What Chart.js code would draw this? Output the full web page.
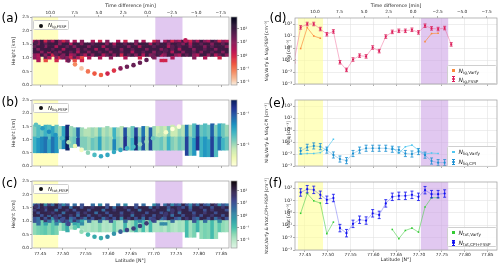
<!DOCTYPE html>
<html>
<head>
<meta charset="utf-8">
<script src="https://cdn.jsdelivr.net/npm/chart.js@4.4.1/dist/chart.umd.min.js"></script>
<style>
html,body{margin:0;padding:0;background:#fff;}
body{width:500px;height:267px;overflow:hidden;font-family:'DejaVu Sans',sans-serif;}
canvas{position:absolute;}
.pl{position:absolute;font-size:12px;line-height:12px;color:#000;}
.leg{position:absolute;border:0.6px solid #cfcfcf;border-radius:1.5px;background:rgba(255,255,255,0.85);color:#222;box-sizing:border-box;}
.leg .row{position:absolute;white-space:nowrap;}
.leg sub{font-size:70%;vertical-align:-0.3em;line-height:0;}
.mk{position:absolute;width:0;height:0;}
</style>
</head>
<body>
<script>
// ================= DATA =================
const latRangeLeft  = [77.4317, 77.8667];
const latRangeRight = [77.4281, 77.8710];
const latTicks   = [77.45, 77.50, 77.55, 77.60, 77.65, 77.70, 77.75, 77.80, 77.85];
const timeTicks  = [10, 7.5, 5, 2.5, 0, -2.5, -5, -7.5];
const timeZeroLat = 77.687;      // latitude where time difference = 0
const degPerMin   = 0.0215;      // latitude change per minute
const heightTicks = [0, 0.5, 1, 1.5, 2, 2.5];
const decadeTicks = [1e-3, 1e-2, 1e-1, 1, 10, 100];
const yellowBand = [77.4345, 77.4895];
const purpleBand = [77.704, 77.764];

// colour scale limits (log10)
const iceRange = [-2.2, 2.9];
const liqRange = [-2.7, -0.55];
const totRange = [-2.65, 2.8];
const iceCbTicks = [1e-2, 1e-1, 1, 10, 100];
const liqCbTicks = [1e-2, 1e-1];
const totCbTicks = [1e-2, 1e-1, 1, 10, 100];

// flight (in-situ) samples
const pointLat = [77.4405, 77.4549, 77.4692, 77.4836, 77.4979, 77.5123, 77.5266, 77.5410, 77.5553, 77.5697, 77.5840, 77.5984,
                  77.6127, 77.6271, 77.6414, 77.6558, 77.6701, 77.6845, 77.6988, 77.7132, 77.7275, 77.7419, 77.7562, 77.7706];
const pointHeight = [1.56, 1.43, 1.30, 1.17, 1.05, 0.90, 0.76, 0.61, 0.50, 0.42, 0.37, 0.42,
                     0.53, 0.61, 0.67, 0.73, 0.82, 0.92, 1.05, 1.17, 1.28, 1.40, 1.49, 1.64];
const nIceFSSP  = [52, 100, 100, 38, 14, 24, 0.065, 0.015, 0.11, 0.23, 0.2, 1.1, 0.55, 9, 22, 27, 27, 33, 20, 72, 43, 38, 46, 2.0];
const iceEdgeLat = 77.4262, iceEdgeValue = 0.08;
const nIceVarfy = [0.9, 50, 10, 6.5, null, null, null, null, null, null, null, null, null, null, null, null, null, null, null, 3.4, 16, 17, null, null];
const nLiqCPI   = [0.018, 0.036, 0.047, 0.041, 0.021, 0.0083, 0.0038, 0.0028, 0.011, 0.021, 0.03, 0.03, 0.03, 0.03, 0.025, 0.022, 0.011, 0.01, 0.016, 0.008, 0.0026, 0.0019, 0.0019, null];
const nLiqVarfy = [0.010, 0.011, 0.011, 0.013, 0.03, 0.17, null, null, null, null, null, null, null, null, 0.034, 0.012, 0.04, 0.055, 0.021, 0.010, 0.012, 0.011, null, null];
const nTotCPIFSSP = [45, 83, 73, 29, 11.5, 16, 0.059, 0.023, 0.13, 0.28, 0.24, 0.93, 0.69, 5.9, 20, 24, 24, 29, 20, 69, 33, 33, 37, null];
const nTotVarfy   = [0.93, 37, 9.5, 6.3, 0.021, 0.18, null, null, null, null, null, null, null, null, 0.046, 0.0083, 0.038, 0.059, 0.028, 3.0, 17, 17, null, null];
const errIceFSSP = 1.4, errLiqCPI = 1.8, errTot = 2.0;   // multiplicative error factors

// retrieved curtain (Varfy): column centres
const colLat = [77.438,77.446,77.454,77.462,77.470,77.478,77.486,77.494,77.502,77.510,77.518,77.526,77.534,77.542,77.550,77.558,77.566,77.574,
                77.582,77.590,77.598,77.606,77.614,77.622,77.630,77.638,77.646,77.654,77.662,77.670,77.678,77.686,77.694,77.702,77.710,77.718,
                77.726,77.734,77.742,77.750,77.758,77.766,77.774,77.782,77.790,77.798,77.806,77.814,77.822,77.830,77.838,77.846,77.854,77.862];
const iceRowBottom = [0.85, 0.95, 1.05, 1.15, 1.25, 1.35, 1.45, 1.55];
const iceRowDepth = 0.1;
// log10 N_ig per row (bottom to top)
const ice085 = [null,0.5,null,-0.5,null,null, 0,null,null,0.5,null,-0.5, null,0,null,null,null,null, null,null,null,null,null,null, null,null,null,null,null,null, null,null,null,null,null,0, 0,null,null,null,null,null, null,null,null,null,null,null, null,null,null,null,null,null];
const ice095 = [1,0.5,null,1.5,0.5,null, 1,0,1.5,1,0,1.5, 0.5,-0.5,null,0.5,null,null, 0.5,null,null,1,null,null, null,0.5,null,null,null,0, null,null,null,1,null,null, null,null,0.5,null,null,null, null,null,1,null,null,0.5, null,null,null,0,null,null];
const ice105 = [1,0.5,2,1,2,0, 1.5,2,1,2,0.5,1, 2,1.5,0.5,2,1,2, 2,0.5,1.5,2,1,2, 0,2,1.5,2,1,2, 0.5,2,1,1.5,2,0.5, 1,2,2,1,0.5,2, 1.5,2,1,0.5,2,2, 1,2,0.5,1.5,2,1];
const ice115 = [2,2,1,2,0.5,2, 2,1,2,2,1.5,2, 0.5,2,2,1,2,2, 1.5,2,2,1,2,2, 1.5,2,2,0.5,2,2, 1.5,2,2,1,2,2, 1.5,2,0.5,2,2,1, 2,2,1.5,2,1,2, 2,1.5,2,2,1,2];
const ice125 = [2,1,2,2,2,1.5, 2,2,0.5,2,2,2, 1,2,1.5,2,2,0.5, 2,2,1,2,2,2, 1,2,2,1.5,2,2, 2,1,2,2,2,1, 2,2,1.5,2,0.5,2, 2,2,1,2,2,1.5, 2,2,1,2,2,2];
const ice135 = [1.5,2,2,1,2,2, 0.5,2,2,1.5,2,1, 2,2,2,1,2,2, 2,0.5,2,2,1.5,2, 2,2,1,2,2,0.5, 2,2,2,1.5,2,2, 2,0.5,2,2,1.5,2, 2,1,2,2,2,1, 2,1.5,2,2,2,1];
const ice145 = [2,1,2,1.5,2,2, 2,1,2,2,0.5,2, 2,1,2,2,1.5,2, 2,2,1,2,0.5,2, 2,1.5,2,2,1,2, 2,2,0.5,2,1.5,2, 2,1,2,2,2,1, 2,0.5,2,2,1.5,2, 2,1,2,2,1.5,2];
const ice155 = [0.5,1,2,0,1.5,0.5, 2,1,0,1,null,0.5, null,1,null,null,0.5,null, 0,null,1,null,null,0.5, null,0,null,null,1,null, 0.5,null,null,0,1,null, 0.5,1.5,0,1,0.5,2, 1,0,1.5,0.5,2,1, 0.5,2,1.5,0,1,0.5];
// liquid columns: bottom, split, top (km) and log10 N_liq below / above the split
const liqBottom = [0.5,0.5,0.5,0.5,0.5,0.5, 0.5,0.65,0.65,0.6,0.7,0.7, 0.75,0.7,0.6,0.6,0.6,0.6, 0.6,0.6,0.6,0.6,0.6,0.6, 0.6,0.6,0.6,0.6,0.6,0.6, 0.6,0.6,0.6,0.6,0.6,0.6, 0.6,0.6,0.6,0.6,0.6,0.6, 0.4,0.4,0.4,0.6,0.35,0.35, 0.35,0.35,0.35,0.6,0.6,0.6];
const liqSplit  = [1.1,1.05,1.1,1.1,1.0,1.1, 1.1,1.1,1.0,1.1,1.1,1.1, 1.05,1.1,1.1,1.1,1.05,1.1, 1.1,1.1,1.1,1.1,1.0,1.1, 1.1,1.1,1.1,1.05,1.1,1.1, 1.1,1.1,1.1,1.1,1.1,1.1, 1.1,1.1,1.1,1.1,1.1,1.1, 1.1,1.1,1.05,1.1,1.1,1.1, 1.0,1.1,1.1,1.1,1.05,1.1];
const liqTop    = [1.55,1.55,1.5,1.55,1.55,1.5, 1.55,1.5,1.5,1.55,1.5,1.45, 1.45,1.45,1.4,1.45,1.45,1.45, 1.45,1.45,1.5,1.45,1.45,1.45, 1.5,1.45,1.45,1.5,1.45,1.45, 1.5,1.5,1.45,1.5,1.5,1.5, 1.5,1.5,1.55,1.5,1.5,1.55, 1.55,1.55,1.6,1.55,1.55,1.6, 1.55,1.6,1.55,1.6,1.6,1.55];
const liqLow  = [-1.6,-1.4,-1.3,-1.2,-1.5,-1.2, -1.4,-1.9,-1.3,-0.6,-1.9,-1.8, -0.9,-1.9,-1.9,-2.0,-1.8,-1.9, -1.5,-2.0,-1.9,-2.0,-1.3,-1.9, -2.0,-0.8,-1.9,-1.6,-0.7,-1.8, -1.0,-2.0,-0.9,-1.9,-1.9,-1.8, -2.0,-1.6,-1.9,-2.0,-1.8,-1.9, -0.9,-1.8,-1.4,-0.8,-1.6,-1.4, -1.5,-0.9,-1.7,-1.2,-1.6,-1.8];
const liqHigh = [-1.9,-1.7,-1.8,-1.6,-1.7,-1.5, -1.8,-2.0,-1.5,-0.7,-2.0,-1.9, -1.1,-2.0,-2.1,-2.1,-2.0,-2.1, -1.8,-2.1,-2.0,-2.1,-1.6,-2.0, -2.1,-1.0,-2.0,-1.8,-0.9,-2.0, -1.2,-2.1,-1.1,-2.0,-2.2,-2.1, -2.2,-1.9,-2.2,-2.2,-2.0,-2.1, -1.2,-2.0,-1.7,-1.0,-1.8,-1.7, -1.8,-1.1,-1.9,-1.5,-1.8,-2.0];

// ================= STYLE / HELPERS =================
const FONT = "'DejaVu Sans', sans-serif";
Chart.defaults.font.family = FONT;
Chart.defaults.color = '#222';

const ROCKET = ['#03051A','#221331','#451C47','#6A1F56','#921C5B','#B91657','#DA2B48','#EF5A41','#F58860','#F6B48E','#FAEBDD'];
const MAKO   = ['#0B0405','#2A1B38','#3C2F60','#40498E','#37679F','#3487A6','#35A5AB','#49C1AD','#8AD9B4','#BDE9CB','#DEF5E5'];
const YLGNBU = ['#FFFFD9','#EDF8B1','#C7E9B4','#7FCDBB','#41B6C4','#1D91C0','#225EA8','#253494','#081D58'];
function makeMap(stops){
  const rgb = stops.map(h=>[parseInt(h.slice(1,3),16),parseInt(h.slice(3,5),16),parseInt(h.slice(5,7),16)]);
  return f => { f = Math.min(1, Math.max(0, f)); const p = f*(rgb.length-1); const i = Math.min(rgb.length-2, Math.floor(p)); const t = p-i;
    const c = rgb[i].map((v,k)=>Math.round(v+(rgb[i+1][k]-v)*t)); return 'rgb('+c[0]+','+c[1]+','+c[2]+')'; };
}
const rocket = makeMap(ROCKET), mako = makeMap(MAKO), ylgnbu = makeMap(YLGNBU);
const iceMap = f => rocket(1-f), totMap = f => mako(1-f), liqMap = f => ylgnbu(f);
const logColor = (map, range, lv) => map((lv-range[0])/(range[1]-range[0]));

const SUP = {'-':'\u207B','0':'\u2070','1':'\u00B9','2':'\u00B2','3':'\u00B3'};
const pow10Label = e => '10' + String(e).split('').map(c=>SUP[c]).join('');

function fix(size){ return s => { if (s.isHorizontal()) s.height = size; else s.width = size; s.paddingLeft = 0; s.paddingRight = 0; s.paddingTop = 0; s.paddingBottom = 0; }; }
function mkCanvas(x, y, w, h){ const c = document.createElement('canvas'); c.width = w; c.height = h;
  Object.assign(c.style, {left:x+'px', top:y+'px', width:w+'px', height:h+'px'}); document.body.appendChild(c); return c; }

const framePlugin = { id:'frame', afterDraw(chart){ const a = chart.chartArea, ctx = chart.ctx; ctx.save(); ctx.strokeStyle = '#9a9a9a'; ctx.lineWidth = 0.7;
  ctx.strokeRect(a.left, a.top, a.right-a.left, a.bottom-a.top); ctx.restore(); } };
const bandsPlugin = { id:'bands', beforeDatasetsDraw(chart){ const xs = chart.scales.x, a = chart.chartArea, ctx = chart.ctx; ctx.save();
  ctx.beginPath(); ctx.rect(a.left, a.top, a.right-a.left, a.bottom-a.top); ctx.clip();
  [[yellowBand,'rgba(255,255,140,0.55)'],[purpleBand,'rgba(200,155,228,0.55)']].forEach(([b,c])=>{ const x0 = xs.getPixelForValue(b[0]), x1 = xs.getPixelForValue(b[1]);
    ctx.fillStyle = c; ctx.fillRect(x0, a.top, x1-x0, a.bottom-a.top); });
  ctx.restore(); } };
const errPlugin = { id:'errbars', afterDatasetsDraw(chart){ const ctx = chart.ctx, xs = chart.scales.x, ys = chart.scales.y, a = chart.chartArea;
  ctx.save(); ctx.beginPath(); ctx.rect(a.left, a.top, a.right-a.left, a.bottom-a.top); ctx.clip();
  chart.data.datasets.forEach(ds => { if (!ds.errFactor) return; ctx.strokeStyle = ds.errColor; ctx.lineWidth = 0.8; ctx.beginPath();
    ds.data.forEach(p => { if (p.y == null) return; const px = xs.getPixelForValue(p.x); const y0 = ys.getPixelForValue(p.y/ds.errFactor), y1 = ys.getPixelForValue(p.y*ds.errFactor);
      ctx.moveTo(px,y0); ctx.lineTo(px,y1); ctx.moveTo(px-1.5,y0); ctx.lineTo(px+1.5,y0); ctx.moveTo(px-1.5,y1); ctx.lineTo(px+1.5,y1); });
    ctx.stroke(); });
  ctx.restore(); } };

function latAxis(range, showLabels, h, onArea, labelPad, titlePad){
  return { type:'linear', position:'bottom', min:range[0], max:range[1], offset:false,
    afterBuildTicks: s => { s.ticks = latTicks.map(v=>({value:v})); },
    ticks:{ display:showLabels, autoSkip:false, maxRotation:0, font:{size:4.3}, color:'#222', padding:labelPad, callback: v => Number(v).toFixed(2) },
    grid:{ offset:false, drawOnChartArea:onArea, color:'#e2e2e2', lineWidth:0.6, drawTicks:true, tickLength:2, tickColor:'#777', tickWidth:0.6 },
    border:{ display:false },
    title:{ display:showLabels, text:'Latitude [N°]', font:{size:4.7}, color:'#222', padding:{top:0, bottom:titlePad} },
    afterFit: fix(h) };
}
function timeAxis(range, h, labelPad, titlePad){
  return { type:'linear', position:'top', min:(timeZeroLat-range[1])/degPerMin, max:(timeZeroLat-range[0])/degPerMin, reverse:true, offset:false,
    afterBuildTicks: s => { s.ticks = timeTicks.map(v=>({value:v})); },
    ticks:{ autoSkip:false, maxRotation:0, font:{size:4.3}, color:'#222', padding:labelPad, callback: v => (v<0?'\u2212':'') + Math.abs(v).toFixed(1) },
    grid:{ offset:false, drawOnChartArea:false, tickLength:2, tickColor:'#777', tickWidth:0.6 },
    border:{ display:false },
    title:{ display:true, text:'Time difference [min]', font:{size:4.7}, color:'#222', padding:{top:titlePad, bottom:0} },
    afterFit: fix(h) };
}
function heightAxis(w){
  return { type:'linear', position:'left', min:0, max:2.5, stacked:false,
    afterBuildTicks: s => { s.ticks = heightTicks.map(v=>({value:v})); },
    ticks:{ font:{size:4.3}, color:'#222', padding:1, callback: v => Number(v).toFixed(1) },
    grid:{ drawOnChartArea:false, tickLength:2, tickColor:'#777', tickWidth:0.6 },
    border:{ display:false },
    title:{ display:true, text:'Height [km]', font:{size:4.7}, color:'#222', padding:{top:11, bottom:0} },
    afterFit: fix(w) };
}
function logAxis(titleLines, w){
  return { type:'logarithmic', position:'left', min:1e-3, max:Math.pow(10,2.5),
    afterBuildTicks: s => { s.ticks = decadeTicks.map(v=>({value:v})); },
    ticks:{ autoSkip:false, font:{size:4.6}, color:'#222', padding:1, callback: v => pow10Label(Math.round(Math.log10(v))) },
    grid:{ color:'#e2e2e2', lineWidth:0.6, tickLength:2, tickColor:'#777', tickWidth:0.6 },
    border:{ display:false },
    title:{ display:true, text:titleLines, font:{size:4.4, lineHeight:'22px'}, color:'#222', padding:{top:12.5, bottom:0} },
    afterFit: fix(w) };
}
const baseOpts = { responsive:false, animation:false, devicePixelRatio:1, events:[], plugins:{ legend:{display:false}, tooltip:{enabled:false} } };

// ---------- heat-map datasets ----------
function iceCells(colorFn, addLiquid){
  const rows = [ice085, ice095, ice105, ice115, ice125, ice135, ice145, ice155];
  return rows.map((row, r) => {
    const data = [], colors = [];
    const y0 = iceRowBottom[r], y1 = iceRowBottom[r] + iceRowDepth, hc = (y0+y1)/2;
    row.forEach((v, i) => { if (v == null) return;
      let lv = v;
      if (addLiquid && hc >= liqBottom[i] && hc <= liqTop[i]) { const l = hc < liqSplit[i] ? liqLow[i] : liqHigh[i]; lv = Math.log10(Math.pow(10,v) + Math.pow(10,l)); }
      data.push({x: colLat[i], y:[y0, y1]}); colors.push(colorFn(lv)); });
    return { type:'bar', data, backgroundColor:colors, borderWidth:0, grouped:false, barPercentage:1, categoryPercentage:1, order:2 };
  });
}
function liqCells(colorFn){
  const lo = {data:[], c:[]}, hi = {data:[], c:[]};
  colLat.forEach((lat, i) => {
    lo.data.push({x:lat, y:[liqBottom[i], liqSplit[i]]}); lo.c.push(colorFn(liqLow[i]));
    hi.data.push({x:lat, y:[liqSplit[i], liqTop[i]]}); hi.c.push(colorFn(liqHigh[i]));
  });
  return [lo, hi].map(d => ({ type:'bar', data:d.data, backgroundColor:d.c, borderWidth:0, grouped:false, barPercentage:1, categoryPercentage:1, order:3 }));
}
function dots(values, colorFn){
  const data = [], colors = [];
  pointLat.forEach((lat, i) => { if (values[i] == null) return; data.push({x:lat, y:pointHeight[i]}); colors.push(colorFn(Math.log10(values[i]))); });
  return { type:'line', showLine:false, data, pointRadius:2.3, pointBackgroundColor:colors, pointBorderWidth:0, pointHoverRadius:0, order:0 };
}
function heatChart(cx, cy, cw, ch, g, datasets, showTop, showLabels, labelPad, titlePad){
  const scales = { x: latAxis(latRangeLeft, showLabels, ch-g.b, false, labelPad, titlePad), y: heightAxis(g.l) };
  if (showTop) scales.x2 = timeAxis(latRangeLeft, g.t, 0, 3.2);
  new Chart(mkCanvas(cx, cy, cw, ch), { type:'bar', data:{ datasets },
    options: Object.assign({}, baseOpts, { layout:{ padding:{ left:0, top: showTop?0:g.t, right: cw-g.r, bottom:0 } }, scales }),
    plugins:[bandsPlugin, framePlugin] });
}
function colorbar(cx, cy, cw, ch, g, map, range, ticks){
  const N = 64, datasets = [];
  for (let k = 0; k < N; k++) {
    const lo = range[0] + (range[1]-range[0])*k/N, hi = range[0] + (range[1]-range[0])*(k+1)/N;
    datasets.push({ data:[[Math.pow(10,lo), Math.pow(10,hi)]], backgroundColor: map((k+0.5)/N), borderWidth:0, grouped:false, barPercentage:1, categoryPercentage:1 });
  }
  new Chart(mkCanvas(cx, cy, cw, ch), { type:'bar', data:{ labels:[''], datasets },
    options: Object.assign({}, baseOpts, { layout:{ padding:{ left:g.l, top:g.t, right:0, bottom: ch-g.b } },
      scales:{ x:{ display:false },
        y:{ type:'logarithmic', position:'right', min:Math.pow(10,range[0]), max:Math.pow(10,range[1]), stacked:false,
          afterBuildTicks: s => { s.ticks = ticks.map(v=>({value:v})); },
          ticks:{ font:{size:4.3}, color:'#222', padding:1, callback: v => pow10Label(Math.round(Math.log10(v))) },
          grid:{ drawOnChartArea:false, tickLength:2, tickColor:'#555', tickWidth:0.6 }, border:{display:false},
          afterFit: fix(cw-g.r) } } }),
    plugins:[framePlugin] });
}
function series(lats, values, o){
  return { type:'line', data: lats.map((x,i)=>({x, y: values[i]})), borderColor:o.line, borderWidth:0.8, pointRadius:o.r||1.1, pointStyle:o.style||'circle',
    pointBackgroundColor:o.color, pointBorderWidth:0, pointHoverRadius:0, spanGaps:false, errFactor:o.err, errColor:o.color, order:o.order };
}
function rightChart(cx, cy, cw, ch, g, datasets, titleLines, showTop, showLabels, labelPad, titlePad){
  const scales = { x: latAxis(latRangeRight, showLabels, ch-g.b, true, labelPad, titlePad), y: logAxis(titleLines, g.l) };
  if (showTop) scales.x2 = timeAxis(latRangeRight, g.t, 1.1, 3.2);
  new Chart(mkCanvas(cx, cy, cw, ch), { type:'line', data:{ datasets },
    options: Object.assign({}, baseOpts, { layout:{ padding:{ left:0, top: showTop?0:g.t, right: cw-g.r, bottom:0 } }, scales }),
    plugins:[bandsPlugin, errPlugin, framePlugin] });
}

// ================= LEFT PANELS =================
const iceColor = lv => logColor(iceMap, iceRange, lv);
const liqColor = lv => logColor(liqMap, liqRange, lv);
const totColor = lv => logColor(totMap, totRange, lv);

heatChart(0, 0, 240, 95, {l:32, t:17, r:229, b:85}, [...iceCells(iceColor, false), dots(nIceFSSP, iceColor)], true, false, 1, 3);
heatChart(0, 88, 240, 86, {l:32, t:12, r:229, b:78}, [...liqCells(liqColor), dots(nLiqCPI, liqColor)], false, false, 1, 3);
heatChart(0, 170, 240, 97, {l:32, t:11, r:229, b:78}, [...liqCells(totColor), ...iceCells(totColor, true), dots(nTotCPIFSSP, totColor)], false, true, 1, 3.5);

colorbar(228, 10, 24, 82, {l:3, t:7, r:9, b:75}, iceMap, iceRange, iceCbTicks);
colorbar(228, 93, 24, 80, {l:3, t:7, r:9, b:73}, liqMap, liqRange, liqCbTicks);
colorbar(228, 174, 24, 80, {l:3, t:7, r:9, b:74}, totMap, totRange, totCbTicks);

// ================= RIGHT PANELS =================
rightChart(243, 0, 257, 95, {l:52, t:18, r:254, b:84}, [
  series(pointLat, nIceVarfy, {color:'#fb8a3c', line:'rgba(251,140,60,0.85)', style:'rect', order:1}),
  series([iceEdgeLat].concat(pointLat), [iceEdgeValue].concat(nIceFSSP), {color:'#dc1e5a', line:'rgba(240,100,150,0.6)', err:errIceFSSP, order:0})
], ['Nig,Varfy & Nig,FSSP [cm\u207B\u00B3]', 'Nig [cm\u207B\u00B3]'], true, false, 1, 3);

rightChart(243, 88, 257, 86, {l:52, t:12, r:254, b:78}, [
  series(pointLat, nLiqVarfy, {color:'#4fc6f0', line:'rgba(80,200,240,0.8)', style:'rect', order:1}),
  series(pointLat, nLiqCPI, {color:'#1b8fd2', line:'rgba(30,144,210,0.4)', err:errLiqCPI, order:0})
], ['Nliq,Varfy & Nliq,CPI [cm\u207B\u00B3]', 'Nliq [cm\u207B\u00B3]'], false, false, 1, 3);

rightChart(243, 170, 257, 97, {l:52, t:12, r:254, b:80}, [
  series(pointLat, nTotVarfy, {color:'#33cc33', line:'rgba(90,210,90,0.8)', style:'rect', order:1}),
  series(pointLat, nTotCPIFSSP, {color:'#1010f0', line:'rgba(60,60,240,0.45)', err:errTot, order:0})
], ['Ntot,Varfy & Ntot,CPI+FSSP [cm\u207B\u00B3]', 'Ntot [cm\u207B\u00B3]'], false, true, 0, 4.2);

// ================= LABELS & LEGENDS =================
function label(txt, x, y){ const d = document.createElement('div'); d.className = 'pl'; d.textContent = txt; d.style.left = x+'px'; d.style.top = y+'px'; document.body.appendChild(d); }
label('(a)', 1.5, 12); label('(b)', 1.5, 95.7); label('(c)', 1.5, 177);
label('(d)', 269.5, 12); label('(e)', 268.5, 97); label('(f)', 268.5, 177);

const mkDot = c => '<div style="position:absolute;left:-2px;top:-2px;width:4px;height:4px;border-radius:50%;background:'+c+'"></div>';
const mkSq  = c => '<div style="position:absolute;left:-1.2px;top:-1.2px;width:2.4px;height:2.4px;background:'+c+'"></div>';
const mkErr = c => '<div style="position:absolute;left:-0.4px;top:-3px;width:0.8px;height:6px;background:'+c+'"></div>'+
  '<div style="position:absolute;left:-1.5px;top:-3px;width:3px;height:0.8px;background:'+c+'"></div>'+
  '<div style="position:absolute;left:-1.5px;top:2.2px;width:3px;height:0.8px;background:'+c+'"></div>'+
  '<div style="position:absolute;left:-1.1px;top:-1.1px;width:2.2px;height:2.2px;border-radius:50%;background:'+c+'"></div>';
function legend(x, y, w, h, fs, entries){
  const box = document.createElement('div'); box.className = 'leg';
  Object.assign(box.style, {left:x+'px', top:y+'px', width:w+'px', height:h+'px', fontSize:fs+'px'});
  entries.forEach(e => {
    const m = document.createElement('div'); m.className = 'mk'; m.innerHTML = e.m; m.style.left = e.mx+'px'; m.style.top = e.cy+'px'; box.appendChild(m);
    const t = document.createElement('div'); t.className = 'row'; t.innerHTML = e.t;
    Object.assign(t.style, {left:e.tx+'px', top:(e.cy - fs*0.6)+'px', lineHeight:(fs*1.2)+'px'}); box.appendChild(t);
  });
  document.body.appendChild(box);
}
legend(33, 20, 36, 10, 5.5, [{m:mkDot('#111'), mx:7, tx:14, cy:4.5, t:'<i>N</i><sub>ig,FSSP</sub>'}]);
legend(33, 103, 36, 9.5, 5.5, [{m:mkDot('#111'), mx:7, tx:14, cy:4.3, t:'<i>N</i><sub>liq,FSSP</sub>'}]);
legend(33, 184, 36, 9.5, 5.5, [{m:mkDot('#111'), mx:7, tx:14, cy:4.3, t:'<i>N</i><sub>tot,FSSP</sub>'}]);
legend(447, 64.5, 50, 19, 6, [
  {m:mkSq('#fb8a3c'), mx:5.5, tx:10.5, cy:4.8, t:'<i>N</i><sub>ig,Varfy</sub>'},
  {m:mkErr('#dc1e5a'), mx:5.5, tx:10.5, cy:13.8, t:'<i>N</i><sub>ig,FSSP</sub>'}]);
legend(447, 146, 50, 20.5, 6, [
  {m:mkSq('#4fc6f0'), mx:5.5, tx:10.5, cy:5, t:'<i>N</i><sub>liq,Varfy</sub>'},
  {m:mkErr('#1b8fd2'), mx:5.5, tx:10.5, cy:15, t:'<i>N</i><sub>liq,CPI</sub>'}]);
legend(447, 226.5, 50, 20.5, 6, [
  {m:mkSq('#33cc33'), mx:5.5, tx:10.5, cy:4.8, t:'<i>N</i><sub>tot,Varfy</sub>'},
  {m:mkErr('#1010f0'), mx:5.5, tx:10.5, cy:15, t:'<i>N</i><sub>tot,CPI+FSSP</sub>'}]);
</script>
</body>
</html>
